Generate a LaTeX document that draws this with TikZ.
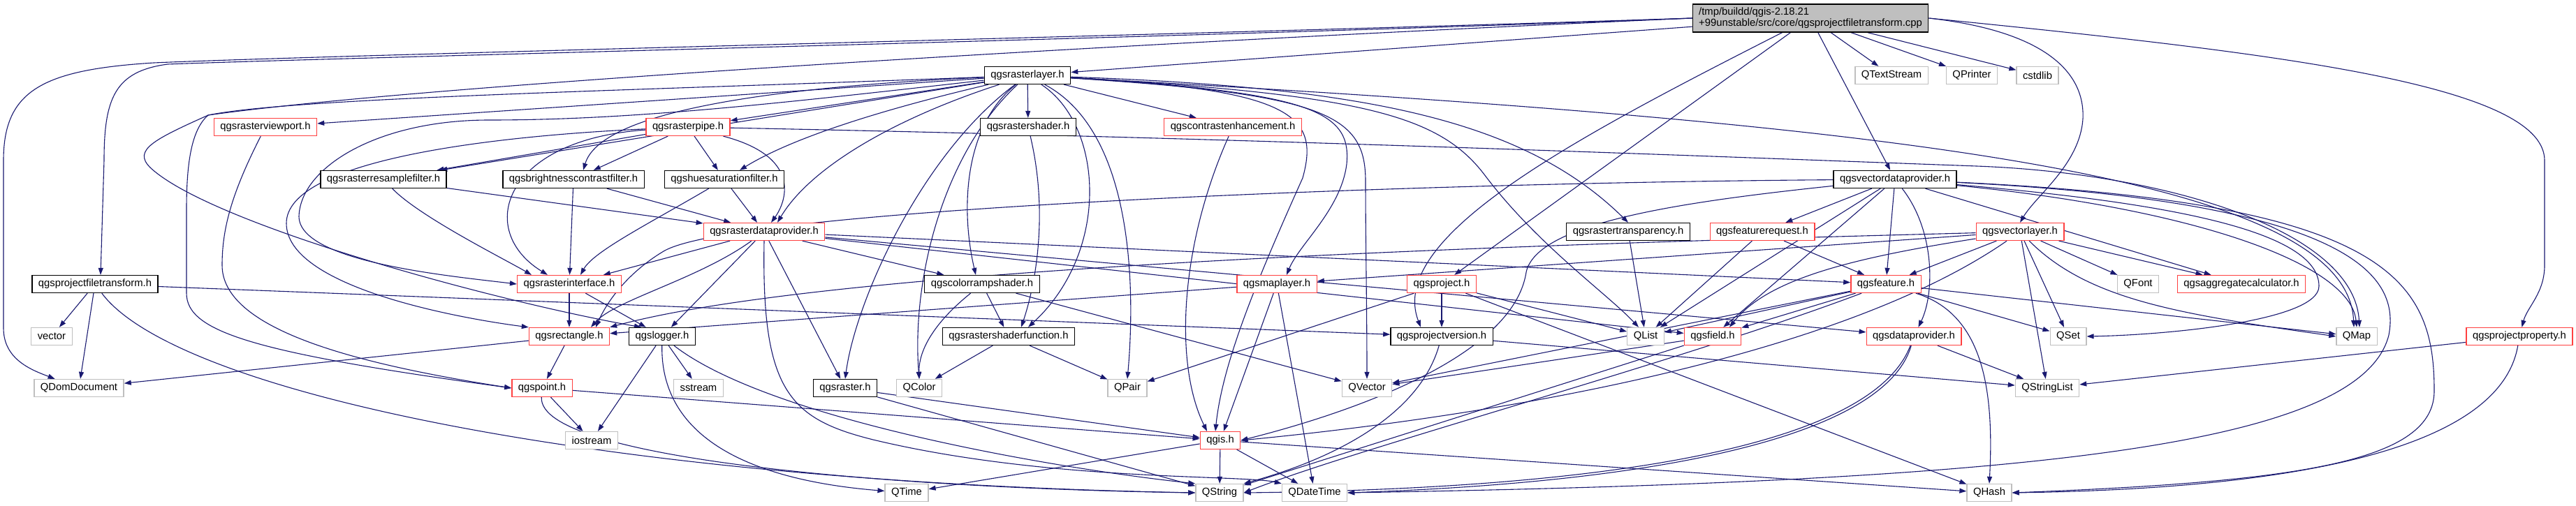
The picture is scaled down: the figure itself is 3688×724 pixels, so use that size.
\documentclass[tikz,border=0pt]{standalone}
\usepackage{fontspec}
\setmainfont{Liberation Sans}
\usepackage{xcolor}
\usetikzlibrary{arrows.meta, backgrounds}

\definecolor{edgeblue}{HTML}{191970}
\definecolor{nodered}{HTML}{FF4040}
\definecolor{nodegrey}{HTML}{BFBFBF}

\begin{document}
\begin{tikzpicture}[x=1pt, y=-1pt,
    file/.style={draw=black, line width=1.3pt, fill=white, minimum height=25pt,
        inner xsep=9pt, inner ysep=0pt, font=\fontsize{14.8}{16}\selectfont},
    redfile/.style={file, draw=nodered},
    sysfile/.style={file, draw=nodegrey},
    mainfile/.style={file, fill=nodegrey, align=left, minimum height=40pt},
    dep/.style={draw=edgeblue, line width=1.1pt, -{Triangle[length=10pt, width=7pt]}}]

        % 1. Frame (keeps the page size)
        \useasboundingbox (0,0) rectangle (3688,724);

        % 2. The source file
        \node[mainfile] (main) at (2592,26) {/tmp/buildd/qgis-2.18.21\\+99unstable/src/core/qgsprojectfiletransform.cpp};

        % 3. Headers, row by row
        \node[file]    (rasterlayer)     at (1471,108) {qgsrasterlayer.h};
        \node[sysfile] (textstream)      at (2708,108) {QTextStream};
        \node[sysfile] (printer)         at (2823,108) {QPrinter};
        \node[sysfile] (cstdlib)         at (2917,108) {cstdlib};

        \node[redfile] (rasterviewport)  at (380,182)  {qgsrasterviewport.h};
        \node[redfile] (rasterpipe)      at (985,182)  {qgsrasterpipe.h};
        \node[file]    (rastershader)    at (1472,182) {qgsrastershader.h};
        \node[redfile] (contrast)        at (1765,182) {qgscontrastenhancement.h};

        \node[file]    (resample)        at (549,257)  {qgsrasterresamplefilter.h};
        \node[file]    (brightness)      at (821,257)  {qgsbrightnesscontrastfilter.h};
        \node[file]    (huesat)          at (1037,257) {qgshuesaturationfilter.h};
        \node[file]    (vectorprovider)  at (2713,257) {qgsvectordataprovider.h};

        \node[redfile] (rasterprovider)  at (1094,332) {qgsrasterdataprovider.h};
        \node[file]    (transparency)    at (2331,332) {qgsrastertransparency.h};
        \node[redfile] (featurerequest)  at (2523,332) {qgsfeaturerequest.h};
        \node[redfile] (vectorlayer)     at (2892,332) {qgsvectorlayer.h};

        \node[file]    (filetransform)   at (136,407)  {qgsprojectfiletransform.h};
        \node[redfile] (rasterinterface) at (815,407)  {qgsrasterinterface.h};
        \node[file]    (colorramp)       at (1406,407) {qgscolorrampshader.h};
        \node[redfile] (maplayer)        at (1828,407) {qgsmaplayer.h};
        \node[redfile] (project)         at (2064,407) {qgsproject.h};
        \node[redfile] (feature)         at (2700,407) {qgsfeature.h};
        \node[sysfile] (qfont)           at (3061,407) {QFont};
        \node[redfile] (aggregate)       at (3209,407) {qgsaggregatecalculator.h};

        \node[sysfile] (vector)          at (74,482)   {vector};
        \node[redfile] (rectangle)       at (815,482)  {qgsrectangle.h};
        \node[file]    (logger)          at (948,482)  {qgslogger.h};
        \node[file]    (shaderfunction)  at (1444,482) {qgsrastershaderfunction.h};
        \node[file]    (projectversion)  at (2064,482) {qgsprojectversion.h};
        \node[sysfile] (qlist)           at (2356,482) {QList};
        \node[redfile] (field)           at (2452,482) {qgsfield.h};
        \node[redfile] (dataprovider)    at (2740,482) {qgsdataprovider.h};
        \node[sysfile] (qset)            at (2961,482) {QSet};
        \node[sysfile] (qmap)            at (3374,482) {QMap};
        \node[redfile] (projectproperty) at (3607,482) {qgsprojectproperty.h};

        \node[sysfile] (domdocument)     at (113,556)  {QDomDocument};
        \node[redfile] (point)           at (776,556)  {qgspoint.h};
        \node[sysfile] (sstream)         at (1000,556) {sstream};
        \node[file]    (raster)          at (1210,556) {qgsraster.h};
        \node[sysfile] (qcolor)          at (1316,556) {QColor};
        \node[sysfile] (qpair)           at (1614,556) {QPair};
        \node[sysfile] (qvector)         at (1957,556) {QVector};
        \node[sysfile] (stringlist)      at (2931,556) {QStringList};

        \node[sysfile] (iostream)        at (847,631)  {iostream};
        \node[redfile] (qgis)            at (1747,631) {qgis.h};

        \node[sysfile] (qtime)           at (1298,706) {QTime};
        \node[sysfile] (qstring)         at (1746,706) {QString};
        \node[sysfile] (datetime)        at (1882,706) {QDateTime};
        \node[sysfile] (qhash)           at (2848,706) {QHash};

        \begin{scope}[on background layer]
        % 4. Straight includes
        \foreach \a/\b in {main/rasterlayer, main/textstream, main/printer, main/cstdlib,
            main/vectorprovider, main/project,
            rasterlayer/rasterviewport, rasterlayer/rasterpipe, rasterlayer/resample,
            rasterlayer/rastershader, rasterlayer/contrast,
            rasterpipe/resample, rasterpipe/brightness, rasterpipe/huesat,
            resample/rasterprovider, brightness/rasterinterface, brightness/rasterprovider,
            huesat/rasterprovider,
            rasterprovider/rasterinterface, rasterprovider/logger, rasterprovider/raster,
            rasterprovider/colorramp, rasterprovider/field,
            rasterprovider/dataprovider, rasterprovider/feature,
            rasterinterface/rectangle, rasterinterface/logger,
            rectangle/domdocument, rectangle/point,
            logger/iostream, logger/sstream, point/iostream, point/qgis,
            raster/qgis, raster/qstring,
            colorramp/shaderfunction, colorramp/qvector,
            shaderfunction/qcolor, shaderfunction/qpair,
            maplayer/qgis, maplayer/datetime, maplayer/rectangle,
            project/projectversion, project/qlist, project/qpair, project/qhash,
            projectversion/stringlist,
            filetransform/vector, filetransform/domdocument, filetransform/projectversion,
            transparency/qlist, featurerequest/qlist, featurerequest/feature,
            vectorprovider/featurerequest, vectorprovider/feature, vectorprovider/field,
            vectorprovider/qlist, vectorprovider/aggregate,
            vectorlayer/maplayer, vectorlayer/feature,
            vectorlayer/qfont, vectorlayer/aggregate, vectorlayer/qset, vectorlayer/stringlist,
            feature/qlist, feature/field, feature/qset, feature/qmap, feature/qvector,
            field/qvector, field/qstring, dataprovider/stringlist, projectproperty/stringlist,
            qgis/qtime, qgis/qstring, qgis/datetime, qgis/qhash}{
            \draw[dep] (\a) -- (\b);
        }

        % 5. Long includes of the source file
        \draw[dep] (main.west) .. controls (1700,50) and (500,78) .. (220,90) .. controls (60,100) and (5,130) .. (5,230) -- (5,470) .. controls (5,515) and (45,530) .. (domdocument);
        \draw[dep] (main.west) .. controls (1700,54) and (500,82) .. (240,92) .. controls (165,102) and (149,140) .. (149,230) -- ([xshift=8pt]filetransform.north);
        \draw[dep] (main.west) .. controls (1600,62) and (600,122) .. (298,165) .. controls (220,200) and (190,215) .. (215,240) .. controls (300,320) and (700,430) .. ([xshift=-30pt]logger.north);
        \draw[dep] (main.east) .. controls (3250,75) and (3643,120) .. (3643,230) -- (3643,380) .. controls (3643,420) and (3618,440) .. (projectproperty);
        \draw[dep] (main.east) .. controls (2930,45) and (2985,105) .. (2982,170) .. controls (2978,235) and (2915,280) .. (vectorlayer.north);
        \draw[dep] (main) .. controls (2250,200) and (1985,340) .. ([xshift=-30pt]projectversion.north);

        % 6. Curved includes of qgsrasterlayer.h
        \draw[dep] (rasterlayer) .. controls (1100,125) and (860,160) .. ([xshift=14pt]brightness.north);
        \draw[dep] (rasterlayer) .. controls (1250,160) and (1130,200) .. ([xshift=22pt]huesat.north);
        \draw[dep] (rasterlayer) .. controls (1280,170) and (1160,240) .. ([xshift=19pt]rasterprovider.north);
        \draw[dep] (rasterlayer) .. controls (1100,150) and (900,172) .. (700,172) .. controls (540,172) and (430,240) .. (428,310) .. controls (428,375) and (640,395) .. (rasterinterface.west);
        \draw[dep] (rasterlayer) .. controls (900,130) and (420,140) .. (298,165) .. controls (275,185) and (267,230) .. (267,300) -- (267,420) .. controls (267,475) and (360,505) .. (point.west);
        \draw[dep] (rasterlayer) .. controls (1380,180) and (1375,300) .. ([xshift=-9pt]colorramp.north);
        \draw[dep] (rasterlayer) .. controls (1580,180) and (1590,360) .. ([xshift=28pt]shaderfunction.north);
        \draw[dep] (rasterlayer) .. controls (1320,220) and (1225,430) .. (raster.north);
        \draw[dep] (rasterlayer) .. controls (1350,220) and (1305,400) .. (qcolor.north);
        \draw[dep] (rasterlayer) .. controls (1625,190) and (1625,420) .. (qpair.north);
        \draw[dep] (rasterlayer) .. controls (1850,128) and (1890,165) .. (1865,255) .. controls (1800,400) and (1750,520) .. ([xshift=-7pt]qgis.north);
        \draw[dep] (rasterlayer) .. controls (1880,132) and (1935,160) .. (1928,235) .. controls (1920,300) and (1860,350) .. ([xshift=14pt]maplayer.north);
        \draw[dep] (rasterlayer) .. controls (1900,135) and (1955,165) .. (1955,260) .. controls (1955,340) and (1957,450) .. (qvector.north);
        \draw[dep] (rasterlayer) .. controls (1950,135) and (2060,165) .. (2125,250) .. controls (2200,350) and (2300,420) .. ([xshift=-10pt]qlist.north);
        \draw[dep] (rasterlayer) .. controls (1950,125) and (2180,170) .. (transparency.north);
        \draw[dep] (rasterlayer) .. controls (2700,175) and (3360,250) .. ([xshift=-4pt]qmap.north);

        % 7. Curved includes of the raster headers
        \draw[dep] (rasterpipe) .. controls (1150,225) and (1125,290) .. ([xshift=10pt]rasterprovider.north);
        \draw[dep] (rasterpipe) .. controls (720,200) and (680,330) .. ([xshift=-31pt]rasterinterface.north);
        \draw[dep] (rasterpipe) .. controls (700,195) and (410,230) .. (410,320) .. controls (410,410) and (650,455) .. (rectangle.north west);
        \draw[dep] (rasterpipe) .. controls (1800,198) and (2500,226) .. (2830,238) .. controls (3100,248) and (3370,330) .. ([xshift=4pt]qmap.north);
        \draw[dep] (rasterviewport) .. controls (330,280) and (318,330) .. (318,380) .. controls (318,470) and (500,520) .. (point.west);
        \draw[dep] (resample) .. controls (600,310) and (720,370) .. ([xshift=-54pt]rasterinterface.north);
        \draw[dep] (huesat) .. controls (930,320) and (850,360) .. ([xshift=16pt]rasterinterface.north);
        \draw[dep] (rasterprovider) .. controls (1000,400) and (880,430) .. ([xshift=31pt]rectangle.north);
        \draw[dep] (rasterprovider.south) .. controls (1090,560) and (1130,600) .. (1250,630) .. controls (1500,690) and (1780,680) .. (datetime.north west);
        \draw[dep] (rastershader) .. controls (1500,300) and (1485,400) .. ([xshift=18pt]shaderfunction.north);
        \draw[dep] (colorramp) .. controls (1340,460) and (1315,500) .. (qcolor.north);
        \draw[dep] (contrast) .. controls (1690,350) and (1680,520) .. ([xshift=-19pt]qgis.north);

        % 8. Curved includes down to Qt and std headers
        \draw[dep] (logger) .. controls (1100,600) and (1500,670) .. (qstring.north west);
        \draw[dep] (logger) .. controls (945,640) and (1100,690) .. (qtime);
        \draw[dep] (point) .. controls (770,660) and (1300,700) .. (qstring.west);
        \draw[dep] (filetransform) .. controls (250,560) and (850,690) .. (qstring.west);
        \draw[dep] (projectversion) .. controls (2030,600) and (1900,660) .. (qstring.north east);

        % 9. Curved includes of the vector headers
        \draw[dep] (vectorprovider) .. controls (2000,262) and (1050,300) .. (950,360) .. controls (900,390) and (870,430) .. ([xshift=38pt]rectangle.north);
        \draw[dep] (vectorprovider) .. controls (2400,290) and (2200,320) .. (2185,390) .. controls (2165,520) and (1900,600) .. (qgis.east);
        \draw[dep] (vectorprovider) .. controls (2770,330) and (2770,420) .. (dataprovider);
        \draw[dep] (vectorprovider) .. controls (3100,290) and (3320,330) .. (3320,410) .. controls (3320,460) and (3100,480) .. (qset.east);
        \draw[dep] (vectorprovider) .. controls (3150,300) and (3365,380) .. (qmap.north);
        \draw[dep] (vectorprovider) .. controls (3420,290) and (3485,400) .. (3485,560) .. controls (3485,660) and (3300,690) .. (qhash.east);
        \draw[dep] (vectorprovider) .. controls (3380,290) and (3435,400) .. (3420,480) .. controls (3380,640) and (2900,690) .. (datetime.east);
        \draw[dep] (vectorlayer) .. controls (2200,350) and (1200,380) .. (rectangle.north east);
        \draw[dep] (vectorlayer) .. controls (2990,430) and (3120,450) .. (qmap.west);
        \draw[dep] (vectorlayer) .. controls (2650,500) and (2200,590) .. (qgis.east);
        \draw[dep] (vectorlayer) .. controls (2650,370) and (2530,400) .. ([xshift=24pt]field.north);
        \draw[dep] (feature) .. controls (2840,450) and (2855,560) .. (qhash.north);
        \draw[dep] (feature) .. controls (2400,520) and (1950,640) .. (qstring.east);
        \draw[dep] (dataprovider) .. controls (2700,620) and (2400,690) .. (datetime.east);
        \draw[dep] (dataprovider) .. controls (2680,640) and (2300,700) .. (qstring.east);
        \draw[dep] (projectproperty) .. controls (3580,640) and (3300,700) .. (qhash.east);
        \end{scope}

    \end{tikzpicture}
\end{document}
